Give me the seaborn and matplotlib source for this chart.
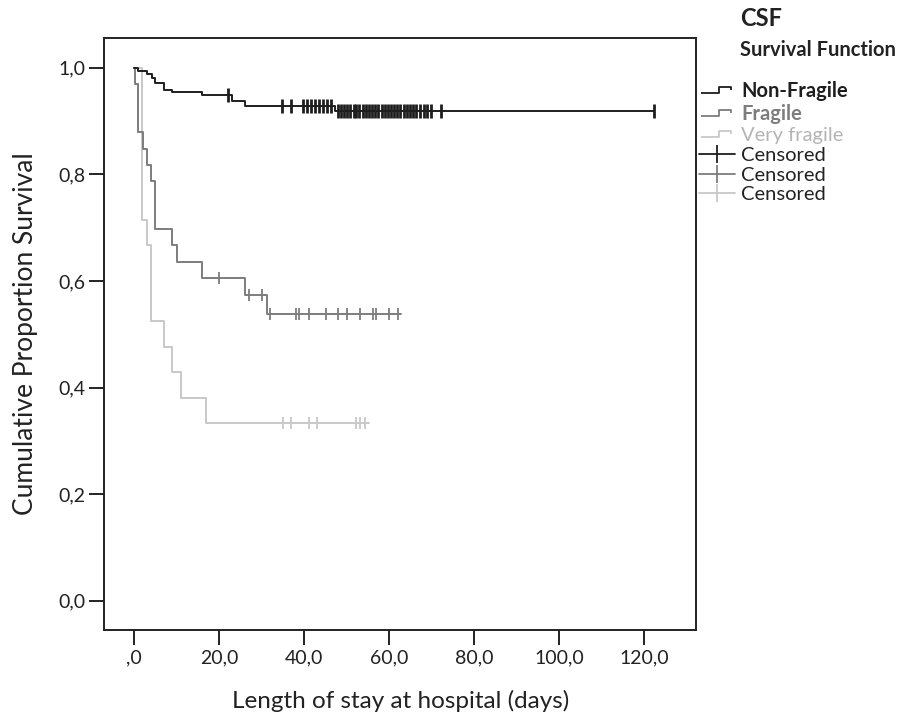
import numpy as np
import pandas as pd
import matplotlib
matplotlib.use("Agg")
import matplotlib.pyplot as plt
import seaborn as sns
from matplotlib.lines import Line2D
from matplotlib.path import Path
from matplotlib.ticker import FuncFormatter

# Kaplan-Meier step curves (days, cumulative survival)
nonfrag_time = [0.0, 0.9, 2.9, 4.1, 4.9, 7.0, 9.0, 16.0, 23.1, 26.0, 47.2, 122.3]
nonfrag_surv = [1.0, 0.994, 0.989, 0.980, 0.972, 0.958, 0.954, 0.949, 0.938, 0.928, 0.919, 0.919]
nonfrag_cens = [22.0, 34.8, 37.0, 39.8, 40.7, 41.7, 42.6, 43.4, 44.4, 45.3, 46.3,
                47.9, 48.6, 49.4, 50.1, 50.8, 51.6, 52.2, 53.0, 53.8, 54.5, 55.2,
                56.0, 56.7, 57.4, 58.2, 58.9, 59.6, 60.4, 61.1, 61.9, 62.6, 63.4,
                64.1, 64.9, 65.6, 66.4, 67.2, 68.1, 69.0, 69.8, 72.1, 122.3]

frag_time = [0.0, 0.1, 0.8, 2.1, 2.9, 3.9, 4.9, 9.0, 10.0, 16.0, 26.0, 31.2, 62.7]
frag_surv = [1.0, 0.970, 0.879, 0.848, 0.818, 0.788, 0.697, 0.667, 0.636, 0.606, 0.574, 0.538, 0.538]
frag_cens = [20.0, 27.0, 30.1, 31.9, 38.0, 38.8, 41.1, 45.1, 48.0, 50.1, 53.1,
             56.1, 57.0, 60.0, 62.1]

vfrag_time = [0.0, 1.9, 2.9, 3.9, 7.0, 9.0, 11.0, 17.0, 55.2]
vfrag_surv = [1.0, 0.714, 0.667, 0.524, 0.476, 0.429, 0.381, 0.333, 0.333]
vfrag_cens = [34.9, 37.0, 41.1, 43.1, 52.2, 53.1, 54.2]

group_names = ["Non-Fragile", "Fragile", "Very fragile"]
group_colors = ["#1e1e1e", "#7d7d7d", "#c8c8c8"]

x_ticks = [0, 20, 40, 60, 80, 100, 120]
y_ticks = [0.0, 0.2, 0.4, 0.6, 0.8, 1.0]

sns.set_style("white")
plt.rcParams["font.family"] = ["Lato", "DejaVu Sans"]

fig = plt.figure(figsize=(9.03, 7.17), dpi=100)
ax = fig.add_axes([0.1157, 0.1213, 0.6551, 0.8257])

curves = [
    (nonfrag_time, nonfrag_surv, nonfrag_cens),
    (frag_time, frag_surv, frag_cens),
    (vfrag_time, vfrag_surv, vfrag_cens),
]

# draw lightest first so the black curve sits on top
for (t, s, c), color in reversed(list(zip(curves, group_colors))):
    df = pd.DataFrame({"time": t, "surv": s})
    sns.lineplot(data=df, x="time", y="surv", drawstyle="steps-post", color=color,
                 lw=1.4, estimator=None, sort=False, ax=ax)
    idx = np.searchsorted(np.array(t), np.array(c), side="right") - 1
    levels = np.array(s)[idx]
    if color == group_colors[0]:
        size, lw = 95, 2.0
    else:
        size, lw = 70, 1.3
    sns.scatterplot(x=c, y=levels, marker="|", s=size, linewidth=lw, color=color, ax=ax)

ax.set_xlim(-7, 132.2)
ax.set_ylim(-0.055, 1.0557)
ax.set_xticks(x_ticks)
ax.set_yticks(y_ticks)
ax.xaxis.set_major_formatter(FuncFormatter(lambda v, p: ",0" if v == 0 else f"{v:.1f}".replace(".", ",")))
ax.yaxis.set_major_formatter(FuncFormatter(lambda v, p: f"{v:.1f}".replace(".", ",")))
ax.tick_params(axis="both", direction="out", length=11, width=1.4, pad=3,
               labelsize=14, colors="#222222", left=True, bottom=True)
for sp in ax.spines.values():
    sp.set_color("#222222")
    sp.set_linewidth(1.4)

ax.set_xlabel("Length of stay at hospital (days)", fontsize=17.5, labelpad=17, color="#222222")
ax.set_ylabel("Cumulative Proportion Survival", fontsize=19, labelpad=14, color="#222222")

fig.text(740 / 903, 1 - 18 / 717, "CSF", fontsize=17, weight="bold", va="center", color="#222222")
fig.text(740 / 903, 1 - 50 / 717, "Survival Function", fontsize=14.5, weight="bold",
         va="center", color="#222222")

# legend: step icons for the curves, crosses for censored cases
step_icon = Path([(-1.0, -0.2), (0.1, -0.2), (0.1, 0.2), (0.85, 0.2), (0.85, 0.0)],
                 [Path.MOVETO, Path.LINETO, Path.LINETO, Path.LINETO, Path.LINETO])
handles = []
for color in group_colors:
    handles.append(Line2D([], [], linestyle="none", marker=step_icon, markersize=23,
                          markerfacecolor="none", markeredgecolor=color, markeredgewidth=1.3))
for color in group_colors:
    handles.append(Line2D([], [], color=color, lw=1.3, marker="|", markersize=13,
                          markeredgewidth=1.3))
labels = group_names + ["Censored"] * 3

leg = fig.legend(handles, labels, loc="upper left", bbox_to_anchor=(699 / 903, 1 - 81 / 717),
                 frameon=False, borderpad=0, borderaxespad=0, handlelength=1.8,
                 handletextpad=0.3, labelspacing=0.14, fontsize=14.5)
text_styles = [("#1e1e1e", "bold"), ("#7d7d7d", "bold"), ("#b4b4b4", "normal"),
               ("#222222", "normal"), ("#222222", "normal"), ("#222222", "normal")]
for txt, (col, wt) in zip(leg.get_texts(), text_styles):
    txt.set_color(col)
    txt.set_fontweight(wt)

fig.savefig("out.png", dpi=100)
plt.close(fig)
